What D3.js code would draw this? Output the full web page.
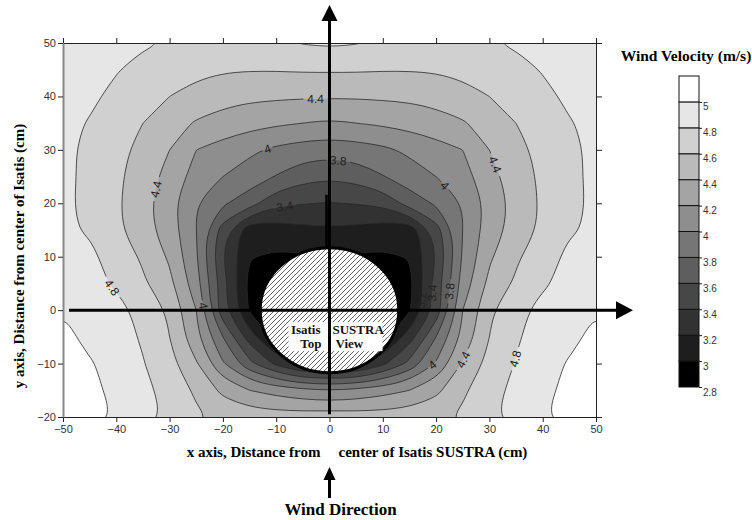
<!DOCTYPE html>
<html>
<head>
<meta charset="utf-8">
<script src="https://cdn.jsdelivr.net/npm/d3@7"></script>
<style>
  body { margin: 0; background: #fff; }
  svg { display: block; }
</style>
</head>
<body>
<svg id="chart" width="752" height="520"></svg>
<script>
// grid positions (cm)
const xs = [-50, -45, -40, -35, -30, -25, -20, -15, -10, -5, 0, 5, 10, 15, 20, 25, 30, 35, 40, 45, 50];
const ys = [50, 45, 40, 35, 30, 25, 20, 15, 10, 5, 0, -5, -10, -15, -20];

// wind velocity (m/s), one row per y value
const velocity = [
  [4.93,4.90,4.86,4.82,4.79,4.76,4.74,4.74,4.76,4.81,4.83,4.81,4.76,4.74,4.74,4.76,4.79,4.82,4.86,4.90,4.93], // 50
  [4.90,4.86,4.81,4.75,4.70,4.65,4.62,4.61,4.61,4.62,4.62,4.62,4.61,4.61,4.62,4.65,4.70,4.75,4.81,4.86,4.90], // 45
  [4.87,4.83,4.76,4.68,4.60,4.53,4.47,4.44,4.43,4.42,4.42,4.42,4.43,4.44,4.47,4.53,4.60,4.68,4.76,4.83,4.87], // 40
  [4.84,4.79,4.70,4.60,4.48,4.38,4.32,4.27,4.23,4.20,4.17,4.20,4.23,4.27,4.32,4.38,4.48,4.60,4.70,4.79,4.84], // 35
  [4.83,4.77,4.67,4.53,4.40,4.20,4.12,4.04,3.96,3.91,3.89,3.91,3.96,4.04,4.12,4.20,4.40,4.53,4.67,4.77,4.83], // 30
  [4.83,4.77,4.64,4.50,4.33,4.12,4.00,3.90,3.79,3.67,3.63,3.67,3.79,3.90,4.00,4.12,4.33,4.50,4.64,4.77,4.83], // 25
  [4.83,4.76,4.63,4.47,4.27,4.00,3.83,3.69,3.45,3.41,3.39,3.41,3.45,3.69,3.83,4.00,4.27,4.47,4.63,4.76,4.83], // 20
  [4.83,4.78,4.64,4.48,4.30,4.00,3.50,3.05,3.10,3.15,3.17,3.15,3.10,3.05,3.50,4.00,4.30,4.48,4.64,4.78,4.83], // 15
  [4.90,4.84,4.72,4.57,4.37,4.02,3.40,3.01,2.97,2.98,3.02,2.98,2.97,3.01,3.40,4.02,4.37,4.57,4.72,4.84,4.90], // 10
  [4.92,4.87,4.77,4.63,4.45,4.08,3.50,2.93,2.80,2.80,2.80,2.80,2.80,2.93,3.50,4.08,4.45,4.63,4.77,4.87,4.92], // 5
  [4.99,4.93,4.86,4.74,4.57,4.20,3.46,2.98,2.80,2.80,2.80,2.80,2.80,2.98,3.46,4.20,4.57,4.74,4.86,4.93,4.99], // 0
  [5.06,4.94,4.87,4.78,4.60,4.25,3.80,3.30,2.90,2.90,2.90,2.90,2.90,3.30,3.80,4.25,4.60,4.78,4.87,4.94,5.06], // -5
  [5.13,5.02,4.92,4.81,4.66,4.42,4.02,3.65,3.35,3.10,3.10,3.10,3.35,3.65,4.02,4.42,4.66,4.81,4.92,5.02,5.13], // -10
  [5.15,5.05,4.95,4.86,4.72,4.57,4.35,4.20,4.12,4.05,4.00,4.05,4.12,4.20,4.35,4.57,4.72,4.86,4.95,5.05,5.15], // -15
  [5.20,5.10,4.98,4.88,4.76,4.63,4.55,4.52,4.50,4.50,4.52,4.50,4.50,4.52,4.55,4.63,4.76,4.88,4.98,5.10,5.20]  // -20
];

const levels = [2.8, 3, 3.2, 3.4, 3.6, 3.8, 4, 4.2, 4.4, 4.6, 4.8, 5];
const bandColors = ['#000000', '#1e1e1e', '#323232', '#474747', '#5e5e5e', '#767676', '#8e8e8e',
                    '#a4a4a4', '#bababa', '#d0d0d0', '#e6e6e6', '#ffffff'];
const legendTop = 5.2;

const xTicks = [-50, -40, -30, -20, -10, 0, 10, 20, 30, 40, 50];
const yTicks = [-20, -10, 0, 10, 20, 30, 40, 50];

// contour labels: value and rough spot on the picture (cm)
const contourLabels = [
  { v: 4.4, x: -2.6, y: 39.5 },
  { v: 4, x: -11.7, y: 30.6 },
  { v: 3.8, x: 1.6, y: 28.2 },
  { v: 3.4, x: -8.3, y: 19 },
  { v: 4.4, x: -32.4, y: 22.6 },
  { v: 4.8, x: -40.4, y: 4.5 },
  { v: 4, x: -23.6, y: 0.8 },
  { v: 4.4, x: 31, y: 27.2 },
  { v: 4, x: 21.8, y: 23.4 },
  { v: 3.2, x: 16.9, y: 2 },
  { v: 3.4, x: 19.3, y: 3.2 },
  { v: 3.8, x: 22.4, y: 3.5 },
  { v: 4, x: 19.6, y: -10.5 },
  { v: 4.4, x: 25.9, y: -9.6 },
  { v: 4.8, x: 35.3, y: -9.3 }
];

// model cross-section (cm)
const modelRx = 13, modelRy = 11.7;

const svg = d3.select('#chart');
const x = d3.scaleLinear().domain([-50, 50]).range([63, 596]);
const y = d3.scaleLinear().domain([-20, 50]).range([417, 43]);

// grid coords from d3.contours -> data coords (values sit at cell centres)
const gx = d3.scaleLinear().domain([0.5, xs.length - 0.5]).range([xs[0], xs[xs.length - 1]]);
const gy = d3.scaleLinear().domain([0.5, ys.length - 0.5]).range([ys[0], ys[ys.length - 1]]);
const toPx = p => [x(gx(p[0])), y(gy(p[1]))];

const serifBold = (sel, size) => sel
  .attr('font-family', '"Liberation Serif", "Times New Roman", serif')
  .attr('font-weight', 'bold')
  .attr('font-size', size);
const sans = (sel, size) => sel
  .attr('font-family', '"Liberation Sans", Arial, sans-serif')
  .attr('font-size', size);

const defs = svg.append('defs');
defs.append('clipPath').attr('id', 'plotClip')
  .append('rect')
  .attr('x', x(-50)).attr('y', y(50))
  .attr('width', x(50) - x(-50)).attr('height', y(-20) - y(50));

const hatch = defs.append('pattern').attr('id', 'hatch')
  .attr('patternUnits', 'userSpaceOnUse').attr('width', 5).attr('height', 5);
hatch.append('rect').attr('width', 5).attr('height', 5).attr('fill', '#fff');
hatch.append('path').attr('d', 'M-1,1 l2,-2 M0,5 l5,-5 M4,6 l2,-2')
  .attr('stroke', '#333').attr('stroke-width', 0.75);

const contours = d3.contours()
  .size([xs.length, ys.length])
  .thresholds(levels)(velocity.flat());

const smooth = d3.line().curve(d3.curveBasisClosed);
const contourPath = c => c.coordinates
  .map(poly => poly.map(ring => smooth(ring.slice(0, -1).map(toPx))).join(''))
  .join('');

// filled bands
const plot = svg.append('g').attr('clip-path', 'url(#plotClip)');
plot.selectAll('path.band')
  .data(contours)
  .enter().append('path')
  .attr('class', 'band')
  .attr('d', contourPath)
  .attr('fill', (d, i) => bandColors[i])
  .attr('fill-rule', 'evenodd');

// contour lines
const lines = plot.append('g').attr('mask', 'url(#labelGaps)')
  .selectAll('path')
  .data(contours.slice(1))
  .enter().append('path')
  .attr('d', contourPath)
  .attr('fill', 'none')
  .attr('stroke', '#2a2a2a')
  .attr('stroke-width', 0.8);

// put each label on the nearest point of its drawn contour
const lineNodes = new Map(lines.nodes().map((n, i) => [levels[i + 1], n]));
function placeLabel(lab) {
  const node = lineNodes.get(lab.v);
  const tx = x(lab.x), ty = y(lab.y);
  const total = node.getTotalLength();
  let best = null;
  for (let s = 0; s <= total; s += 1) {
    const p = node.getPointAtLength(s);
    const dist = (p.x - tx) ** 2 + (p.y - ty) ** 2;
    if (!best || dist < best.dist) best = { dist, s, x: p.x, y: p.y };
  }
  const a = node.getPointAtLength(Math.max(0, best.s - 4));
  const b = node.getPointAtLength(Math.min(total, best.s + 4));
  let ang = Math.atan2(b.y - a.y, b.x - a.x) * 180 / Math.PI;
  if (ang > 90) ang -= 180;
  if (ang < -90) ang += 180;
  return { text: d3.format('')(lab.v), x: best.x, y: best.y, a: ang };
}
const labels = contourLabels.map(placeLabel);

const mask = defs.append('mask').attr('id', 'labelGaps').attr('maskUnits', 'userSpaceOnUse');
mask.append('rect').attr('x', 0).attr('y', 0).attr('width', 752).attr('height', 520).attr('fill', '#fff');
mask.selectAll('rect.gap')
  .data(labels)
  .enter().append('rect')
  .attr('class', 'gap')
  .attr('x', d => -(d.text.length * 3.4 + 2))
  .attr('y', -5)
  .attr('width', d => d.text.length * 6.8 + 4)
  .attr('height', 10)
  .attr('transform', d => `translate(${d.x},${d.y}) rotate(${d.a})`)
  .attr('fill', '#000');

plot.selectAll('text.clabel')
  .data(labels)
  .enter().append('text')
  .attr('class', 'clabel')
  .attr('transform', d => `translate(${d.x},${d.y}) rotate(${d.a})`)
  .attr('text-anchor', 'middle')
  .attr('dy', '0.36em')
  .attr('fill', '#222')
  .call(sans, 12)
  .text(d => d.text);

// axes
const styleAxis = g => {
  g.selectAll('text').call(sans, 11).attr('fill', '#333');
  g.selectAll('line').attr('stroke', '#222');
  g.select('.domain').attr('stroke', '#222');
};
svg.append('g').attr('transform', `translate(0,${y(-20)})`)
  .call(d3.axisBottom(x).tickValues(xTicks).tickSize(5).tickSizeOuter(0).tickPadding(3))
  .call(styleAxis);
svg.append('g').attr('transform', `translate(0,${y(50)})`)
  .call(d3.axisTop(x).tickValues(xTicks).tickSize(5).tickSizeOuter(0).tickFormat(''))
  .call(styleAxis);
svg.append('g').attr('transform', `translate(${x(-50)},0)`)
  .call(d3.axisLeft(y).tickValues(yTicks).tickSize(5).tickSizeOuter(0).tickPadding(2))
  .call(styleAxis)
  .call(g => g.select('.domain').attr('stroke', '#888').attr('stroke-width', 2));
svg.append('g').attr('transform', `translate(${x(50)},0)`)
  .call(d3.axisRight(y).tickValues(yTicks).tickSize(6).tickSizeOuter(0).tickFormat(''))
  .call(styleAxis);

// model (top view)
const cx = x(0), cy = y(0);
svg.append('ellipse')
  .attr('cx', cx).attr('cy', cy)
  .attr('rx', x(modelRx) - x(0)).attr('ry', y(0) - y(modelRy))
  .attr('fill', 'url(#hatch)')
  .attr('stroke', '#000').attr('stroke-width', 3);
svg.append('rect')
  .attr('x', cx - 41).attr('y', cy + 12).attr('width', 94).attr('height', 29)
  .attr('fill', '#fff');

// direction arrows through the model
svg.append('line').attr('x1', cx - 3).attr('x2', cx - 3)
  .attr('y1', y(21.6)).attr('y2', y(modelRy))
  .attr('stroke', '#000').attr('stroke-width', 2.5);
svg.append('line').attr('x1', cx).attr('x2', cx).attr('y1', y(-19.5)).attr('y2', 20)
  .attr('stroke', '#000').attr('stroke-width', 3);
svg.append('path').attr('d', `M${cx - 8},21 L${cx + 8},21 L${cx},5 Z`).attr('fill', '#000');
svg.append('line').attr('x1', 69).attr('x2', 618).attr('y1', cy).attr('y2', cy)
  .attr('stroke', '#000').attr('stroke-width', 3);
svg.append('path').attr('d', `M616,${cy - 9} L616,${cy + 9} L633,${cy} Z`).attr('fill', '#000');

const modelText = [
  { t: 'Isatis', x: cx - 9, y: cy + 24, a: 'end' },
  { t: 'SUSTRA', x: cx + 3, y: cy + 24, a: 'start' },
  { t: 'Top', x: cx - 8, y: cy + 38, a: 'end' },
  { t: 'View', x: cx + 6, y: cy + 38, a: 'start' }
];
svg.selectAll('text.model')
  .data(modelText)
  .enter().append('text')
  .attr('class', 'model')
  .attr('x', d => d.x).attr('y', d => d.y)
  .attr('text-anchor', d => d.a)
  .attr('fill', '#111')
  .call(serifBold, 13)
  .text(d => d.t);

// axis titles
svg.append('text')
  .attr('transform', `translate(24,256) rotate(-90)`)
  .attr('text-anchor', 'middle')
  .call(serifBold, 15)
  .text('y axis, Distance from center of Isatis (cm)');
svg.append('text').attr('x', cx - 9).attr('y', 457).attr('text-anchor', 'end')
  .call(serifBold, 15).text('x axis, Distance from');
svg.append('text').attr('x', cx + 9).attr('y', 457).attr('text-anchor', 'start')
  .call(serifBold, 15).text('center of Isatis SUSTRA (cm)');

// wind direction
svg.append('line').attr('x1', cx).attr('x2', cx).attr('y1', 498).attr('y2', 478)
  .attr('stroke', '#000').attr('stroke-width', 3);
svg.append('path').attr('d', `M${cx - 6},480 L${cx + 6},480 L${cx},467 Z`).attr('fill', '#000');
svg.append('text').attr('x', cx + 11).attr('y', 515).attr('text-anchor', 'middle')
  .call(serifBold, 17).text('Wind Direction');

// legend
const legendY = d3.scaleLinear().domain([levels[0], legendTop]).range([387, 76]);
const legend = svg.append('g');
legend.append('text').attr('x', 686).attr('y', 61).attr('text-anchor', 'middle')
  .call(serifBold, 15.5).text('Wind Velocity (m/s)');
legend.selectAll('rect')
  .data(levels)
  .enter().append('rect')
  .attr('x', 679).attr('width', 20)
  .attr('y', (d, i) => legendY(i + 1 < levels.length ? levels[i + 1] : legendTop))
  .attr('height', (d, i) => legendY(d) - legendY(i + 1 < levels.length ? levels[i + 1] : legendTop))
  .attr('fill', (d, i) => bandColors[i])
  .attr('stroke', '#111').attr('stroke-width', 1);
legend.append('g').attr('transform', 'translate(699,0)')
  .call(d3.axisRight(legendY).tickValues(levels).tickSize(3).tickPadding(1).tickFormat(d3.format('')))
  .call(g => g.select('.domain').remove())
  .call(g => g.selectAll('line').attr('stroke', '#222'))
  .call(g => g.selectAll('text').call(sans, 10).attr('fill', '#333').attr('dy', '0.8em'));
</script>
</body>
</html>
